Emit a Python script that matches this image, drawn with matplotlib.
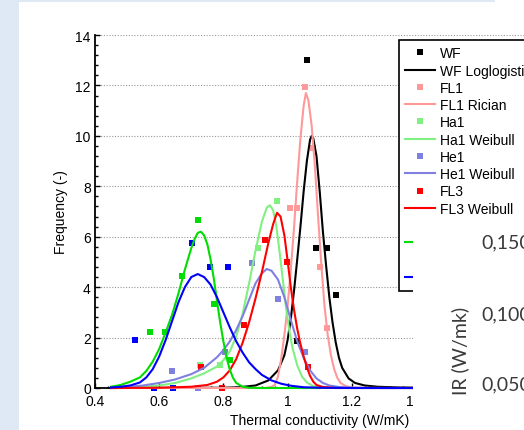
import matplotlib
matplotlib.use("Agg")
import matplotlib.pyplot as plt
from matplotlib.patches import Rectangle
from matplotlib.ticker import MultipleLocator, FormatStrFormatter

plt.rcParams['font.family'] = ['Liberation Sans', 'DejaVu Sans']

# histogram points (frequency vs thermal conductivity)
wf_x = [1.028, 1.060, 1.090, 1.122, 1.151]
wf_y = [1.85, 12.99, 5.56, 5.56, 3.70]
fl1_x = [1.007, 1.028, 1.055, 1.078, 1.101, 1.123]
fl1_y = [7.14, 7.14, 11.93, 9.52, 4.79, 2.38]
ha1_x = [0.727, 0.789, 0.907, 0.966]
ha1_y = [0.93, 0.93, 5.56, 7.41]
he1_x = [0.639, 0.722, 0.805, 0.888, 0.971, 1.055]
he1_y = [0.69, 0.0, 1.42, 4.95, 3.53, 1.42]
fl3_x = [0.730, 0.797, 0.865, 0.930, 0.997, 1.062]
fl3_y = [0.85, 0.0, 2.50, 5.85, 4.99, 0.85]
ha2_x = [0.571, 0.618, 0.672, 0.722, 0.772, 0.820]
ha2_y = [2.23, 2.23, 4.46, 6.68, 3.35, 1.11]
he2_x = [0.525, 0.585, 0.644, 0.701, 0.758, 0.815]
he2_y = [1.90, 0.0, 0.0, 5.74, 4.79, 4.79]

# fitted curves
wf_fit_x = [0.45, 0.80, 0.85, 0.90, 0.94, 0.97, 0.99, 1.00, 1.01, 1.02, 1.03, 1.04, 1.05, 1.06, 1.07,
            1.075, 1.08, 1.09, 1.10, 1.11, 1.12, 1.13, 1.14, 1.15, 1.16, 1.17, 1.19, 1.21, 1.24, 1.28,
            1.35, 1.45, 1.80]
wf_fit_y = [0, 0.01, 0.03, 0.1, 0.3, 0.7, 1.3, 1.9, 2.75, 3.85, 5.1, 6.4, 7.8, 9.0, 9.85,
            10.0, 9.9, 9.2, 7.8, 6.2, 4.85, 3.6, 2.6, 1.8, 1.2, 0.8, 0.38, 0.2, 0.1, 0.05,
            0.02, 0.01, 0]
fl1_fit_x = [0.45, 0.93, 0.95, 0.96, 0.97, 0.98, 0.99, 1.00, 1.01, 1.02, 1.03, 1.04, 1.05, 1.057,
             1.065, 1.075, 1.085, 1.095, 1.105, 1.115, 1.125, 1.135, 1.145, 1.155, 1.165, 1.18,
             1.20, 1.25, 1.80]
fl1_fit_y = [0, 0, 0.05, 0.12, 0.45, 1.15, 2.1, 3.25, 4.7, 6.35, 8.2, 9.9, 11.2, 11.7,
             11.4, 10.4, 8.8, 6.8, 4.9, 3.25, 2.1, 1.3, 0.75, 0.4, 0.2, 0.08,
             0.02, 0, 0]
ha1_fit_x = [0.45, 0.55, 0.60, 0.65, 0.70, 0.74, 0.78, 0.80, 0.82, 0.84, 0.86, 0.88, 0.90, 0.92,
             0.935, 0.945, 0.955, 0.965, 0.975, 0.985, 0.995, 1.005, 1.015, 1.03, 1.045, 1.06,
             1.08, 1.10, 1.15, 1.80]
ha1_fit_y = [0.0, 0.04, 0.1, 0.2, 0.38, 0.58, 0.85, 1.1, 1.45, 2.05, 2.95, 4.15, 5.45, 6.6,
             7.15, 7.25, 7.05, 6.4, 5.4, 4.3, 3.2, 2.3, 1.6, 0.9, 0.45, 0.22,
             0.07, 0.02, 0, 0]
he1_fit_x = [0.45, 0.50, 0.55, 0.60, 0.65, 0.70, 0.74, 0.78, 0.80, 0.82, 0.84, 0.86, 0.88, 0.90,
             0.92, 0.935, 0.95, 0.97, 0.99, 1.01, 1.03, 1.05, 1.07, 1.09, 1.11, 1.13, 1.16, 1.20,
             1.30, 1.80]
he1_fit_y = [0.0, 0.04, 0.1, 0.2, 0.34, 0.55, 0.8, 1.22, 1.5, 1.85, 2.3, 2.85, 3.5, 4.15,
             4.55, 4.72, 4.65, 4.3, 3.6, 2.7, 1.85, 1.2, 0.7, 0.38, 0.2, 0.1, 0.04, 0.01,
             0, 0]
fl3_fit_x = [0.45, 0.60, 0.70, 0.75, 0.78, 0.80, 0.82, 0.84, 0.86, 0.88, 0.90, 0.92, 0.94, 0.955,
             0.967, 0.978, 0.99, 1.00, 1.01, 1.02, 1.03, 1.04, 1.05, 1.06, 1.07, 1.08, 1.09,
             1.11, 1.15, 1.80]
fl3_fit_y = [0.0, 0.01, 0.05, 0.12, 0.25, 0.42, 0.7, 1.15, 1.8, 2.6, 3.55, 4.6, 5.75, 6.5,
             6.95, 6.8, 6.05, 5.05, 4.0, 3.1, 2.35, 1.75, 1.25, 0.82, 0.48, 0.25, 0.12,
             0.04, 0, 0]
ha2_fit_x = [0.45, 0.48, 0.51, 0.54, 0.56, 0.58, 0.60, 0.62, 0.64, 0.66, 0.68, 0.70, 0.71, 0.72,
             0.73, 0.74, 0.75, 0.76, 0.77, 0.78, 0.79, 0.80, 0.81, 0.82, 0.83, 0.84, 0.86, 0.88,
             0.92, 1.10]
ha2_fit_y = [0.05, 0.12, 0.25, 0.42, 0.68, 1.05, 1.55, 2.2, 2.9, 3.75, 4.7, 5.55, 5.9, 6.15,
             6.2, 6.05, 5.7, 5.1, 4.35, 3.45, 2.6, 1.85, 1.2, 0.72, 0.4, 0.2, 0.05, 0.01,
             0.0, 0.0]
he2_fit_x = [0.45, 0.48, 0.51, 0.54, 0.56, 0.58, 0.60, 0.62, 0.64, 0.66, 0.68, 0.70, 0.72, 0.74,
             0.76, 0.78, 0.80, 0.82, 0.84, 0.86, 0.88, 0.90, 0.92, 0.95, 0.98, 1.01, 1.05, 1.10,
             1.20, 1.80]
he2_fit_y = [0.02, 0.05, 0.1, 0.22, 0.42, 0.75, 1.25, 1.9, 2.65, 3.4, 4.0, 4.4, 4.52, 4.4,
             4.1, 3.6, 3.0, 2.4, 1.85, 1.4, 1.02, 0.75, 0.52, 0.3, 0.17, 0.09, 0.03, 0.01,
             0, 0]

W, H = 524, 431
fig = plt.figure(figsize=(W / 100, H / 100), dpi=100)
fig.patch.set_facecolor('#dee9f5')
# white slide panel behind the chart
fig.add_artist(Rectangle((19 / W, 0), 1, (H - 3) / H, transform=fig.transFigure,
                         facecolor='white', edgecolor='none', zorder=-1))
fig.add_artist(Rectangle((495 / W, 0), 1, 1, transform=fig.transFigure,
                         facecolor='white', edgecolor='none', zorder=-1))

ax = fig.add_axes([95 / W, (H - 389) / H, 449.4 / W, 353 / H])
ax.set_facecolor('none')

series = [
    ('WF', wf_x, wf_y, 'WF Loglogistic', wf_fit_x, wf_fit_y, 'black'),
    ('FL1', fl1_x, fl1_y, 'FL1 Rician', fl1_fit_x, fl1_fit_y, '#ff9999'),
    ('Ha1', ha1_x, ha1_y, 'Ha1 Weibull', ha1_fit_x, ha1_fit_y, '#80f080'),
    ('He1', he1_x, he1_y, 'He1 Weibull', he1_fit_x, he1_fit_y, '#8080e0'),
    ('FL3', fl3_x, fl3_y, 'FL3 Weibull', fl3_fit_x, fl3_fit_y, '#ff0000'),
    ('Ha2', ha2_x, ha2_y, 'Ha2 Weibull', ha2_fit_x, ha2_fit_y, '#00dd00'),
    ('He2', he2_x, he2_y, 'He2 Weibull', he2_fit_x, he2_fit_y, '#0000ff'),
]
for name, px, py, fname, fx, fy, c in series:
    ax.plot(px, py, 's', ms=3.8, color=c, mew=0, label=name, clip_on=False, zorder=3)
    ax.plot(fx, fy, '-', lw=1.5, color=c, label=fname, clip_on=False, zorder=4)

ax.set_xlim(0.4, 1.8)
ax.set_ylim(0, 14)
ax.xaxis.set_major_locator(MultipleLocator(0.2))
ax.xaxis.set_minor_locator(MultipleLocator(0.04))
ax.yaxis.set_major_locator(MultipleLocator(2))
ax.yaxis.set_minor_locator(MultipleLocator(0.4))
ax.xaxis.set_major_formatter(FormatStrFormatter('%g'))
ax.yaxis.set_major_formatter(FormatStrFormatter('%g'))
ax.tick_params(which='both', direction='in', top=False, right=False, width=1, color='black')
ax.tick_params(which='major', length=3.5, labelsize=10)
ax.tick_params(which='minor', length=1.8)
ax.tick_params(axis='x', which='major', pad=4)
ax.tick_params(axis='y', which='major', pad=3)
for s in ['top', 'right']:
    ax.spines[s].set_visible(False)
for s in ['left', 'bottom']:
    ax.spines[s].set_linewidth(1.3)
ax.yaxis.grid(True, which='major', linestyle=(0, (1, 1.5)), color='#999999', linewidth=0.8)
ax.set_axisbelow(True)

ax.set_xlabel('Thermal conductivity (W/mK)', fontsize=10, labelpad=4)
ax.set_ylabel('Frequency (-)', fontsize=10, labelpad=5)

leg = ax.legend(loc='upper left', bbox_to_anchor=(399 / W, (H - 41) / H),
                bbox_transform=fig.transFigure, borderaxespad=0, fontsize=10,
                fancybox=False, edgecolor='black', framealpha=1, handlelength=2.15,
                handletextpad=0.35, labelspacing=0.235, borderpad=0.45)
leg.get_frame().set_linewidth(1.2)
leg.set_zorder(10)

# the next picture on the slide overlaps the lower right corner
fig.add_artist(Rectangle((413 / W, 0), 1, (H - 217) / H, transform=fig.transFigure,
                         facecolor='white', edgecolor='none', zorder=20))
tc = '#3a3a3a'
for lab, ypix in [('0,150', 243), ('0,100', 315), ('0,050', 385)]:
    fig.text(481 / W, (H - ypix) / H, lab, ha='left', va='center', fontsize=14,
             color=tc, family=['Lato', 'DejaVu Sans'], zorder=21)
fig.text(460 / W, (H - 351) / H, 'IR (W/mk)', rotation=90, ha='center', va='center',
         fontsize=14, color=tc, family=['Lato', 'DejaVu Sans'], zorder=21)

fig.savefig('out.png', dpi=100, facecolor=fig.get_facecolor())
